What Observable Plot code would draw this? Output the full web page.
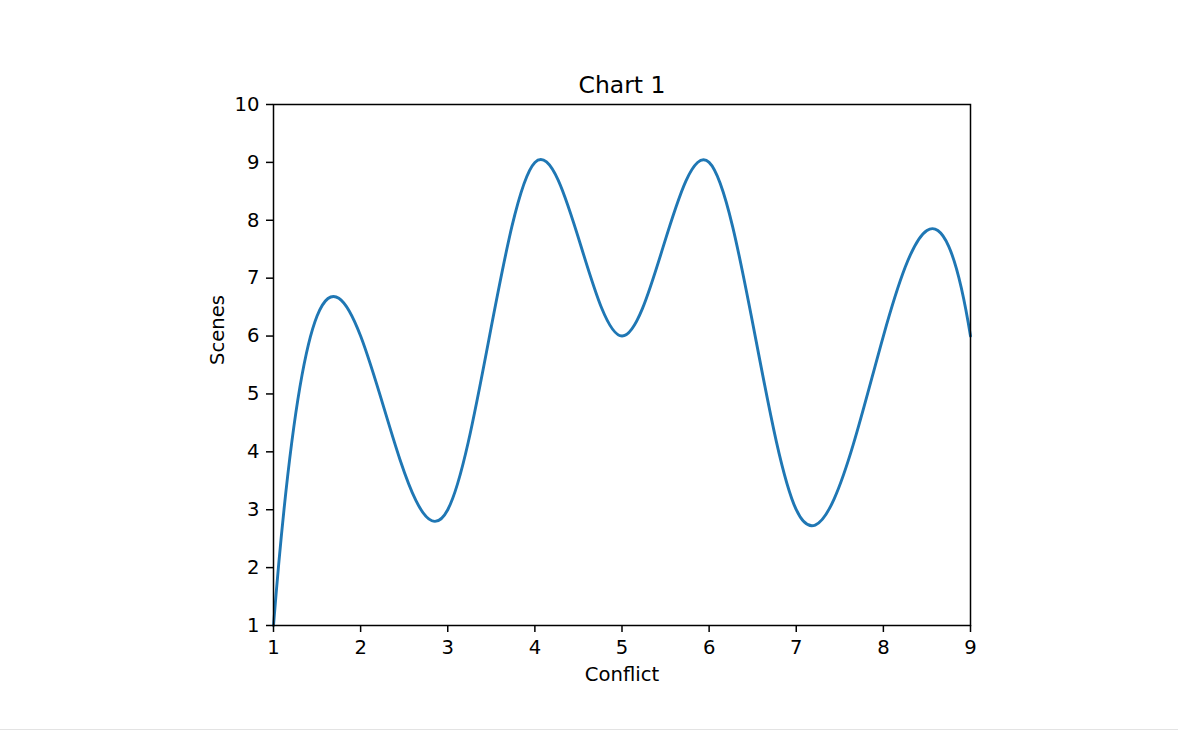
<!DOCTYPE html>
<html>
<head>
<meta charset="utf-8">
<script src="https://cdn.jsdelivr.net/npm/d3@7"></script>
<script src="https://cdn.jsdelivr.net/npm/@observablehq/plot@0.6"></script>
<style>
  html, body { margin: 0; padding: 0; background: #fff; }
  #chart { width: 1178px; border-bottom: 1px solid #e3e3e3; }
  svg { display: block; }
</style>
</head>
<body>
<div id="chart"></div>
<script>
const conflict = [1, 2, 3, 4, 5, 6, 7, 8, 9];
const scenes = [1, 6, 3, 9, 6, 9, 3, 6, 6];
const xTicks = [1, 2, 3, 4, 5, 6, 7, 8, 9];
const yTicks = [1, 2, 3, 4, 5, 6, 7, 8, 9, 10];
const titleText = "Chart 1";
const xLabel = "Conflict";
const yLabel = "Scenes";

// Not-a-knot cubic spline curve (like scipy's CubicSpline default)
function solve(A, b) {
  const n = b.length;
  const M = A.map((r, i) => r.slice().concat([b[i]]));
  for (let c = 0; c < n; c++) {
    let p = c;
    for (let r = c + 1; r < n; r++) if (Math.abs(M[r][c]) > Math.abs(M[p][c])) p = r;
    [M[c], M[p]] = [M[p], M[c]];
    for (let r = c + 1; r < n; r++) {
      const f = M[r][c] / M[c][c];
      for (let k = c; k <= n; k++) M[r][k] -= f * M[c][k];
    }
  }
  const s = new Array(n).fill(0);
  for (let r = n - 1; r >= 0; r--) {
    let v = M[r][n];
    for (let k = r + 1; k < n; k++) v -= M[r][k] * s[k];
    s[r] = v / M[r][r];
  }
  return s;
}
function slopesNotAKnot(x, y) {
  const n = x.length;
  const dx = [], sl = [];
  for (let i = 0; i < n - 1; i++) { dx.push(x[i + 1] - x[i]); sl.push((y[i + 1] - y[i]) / dx[i]); }
  if (n < 4) return x.map(() => sl[0] || 0);
  const A = Array.from({length: n}, () => new Array(n).fill(0));
  const b = new Array(n).fill(0);
  const d0 = x[2] - x[0];
  A[0][0] = dx[1]; A[0][1] = d0;
  b[0] = ((dx[0] + 2 * d0) * dx[1] * sl[0] + dx[0] * dx[0] * sl[1]) / d0;
  for (let i = 1; i < n - 1; i++) {
    A[i][i - 1] = dx[i]; A[i][i] = 2 * (dx[i - 1] + dx[i]); A[i][i + 1] = dx[i - 1];
    b[i] = 3 * (dx[i] * sl[i - 1] + dx[i - 1] * sl[i]);
  }
  const d1 = x[n - 1] - x[n - 3];
  A[n - 1][n - 2] = d1; A[n - 1][n - 1] = dx[n - 3];
  b[n - 1] = (dx[n - 2] * dx[n - 2] * sl[n - 3] + (2 * d1 + dx[n - 2]) * dx[n - 3] * sl[n - 2]) / d1;
  return solve(A, b);
}
function NotAKnot(context) { this._context = context; }
NotAKnot.prototype = {
  areaStart() {}, areaEnd() {},
  lineStart() { this._x = []; this._y = []; },
  point(x, y) { this._x.push(+x); this._y.push(+y); },
  lineEnd() {
    const x = this._x, y = this._y, n = x.length, ctx = this._context;
    if (!n) return;
    ctx.moveTo(x[0], y[0]);
    if (n === 1) return;
    const s = slopesNotAKnot(x, y);
    for (let i = 0; i < n - 1; i++) {
      const h = x[i + 1] - x[i];
      ctx.bezierCurveTo(x[i] + h / 3, y[i] + s[i] * h / 3, x[i + 1] - h / 3, y[i + 1] - s[i + 1] * h / 3, x[i + 1], y[i + 1]);
    }
  }
};
const curveNotAKnot = (ctx) => new NotAKnot(ctx);

const data = conflict.map((c, i) => ({conflict: c, scenes: scenes[i]}));

const chart = Plot.plot({
  width: 1178,
  height: 729,
  marginLeft: 273,
  marginRight: 208,
  marginTop: 104,
  marginBottom: 104,
  style: {fontFamily: "DejaVu Sans", fontSize: "19.6px", color: "#000", background: "#fff"},
  x: {domain: [1, 9]},
  y: {domain: [1, 10]},
  marks: [
    Plot.line(data, {x: "conflict", y: "scenes", stroke: "#1f77b4", strokeWidth: 2.9, curve: curveNotAKnot}),
    Plot.frame({stroke: "#000", strokeWidth: 1.5}),
    Plot.axisX({ticks: xTicks, tickFormat: d3.format("d"), tickSize: 7, tickPadding: 8, label: null, fontSize: 19.6, stroke: "#000", strokeWidth: 1.5}),
    Plot.axisY({ticks: yTicks, tickFormat: d3.format("d"), tickSize: 7, tickPadding: 7, label: null, fontSize: 19.6, stroke: "#000", strokeWidth: 1.5}),
    Plot.text([titleText], {frameAnchor: "top", lineAnchor: "bottom", dy: -11.5, fontSize: 23.5, fill: "#000"}),
    Plot.text([xLabel], {frameAnchor: "bottom", lineAnchor: "top", dy: 42, fontSize: 19.6, fill: "#000"}),
    Plot.text([yLabel], {frameAnchor: "left", dx: -55.5, rotate: -90, fontSize: 19.6, fill: "#000"})
  ]
});
document.getElementById("chart").appendChild(chart);
</script>
</body>
</html>
